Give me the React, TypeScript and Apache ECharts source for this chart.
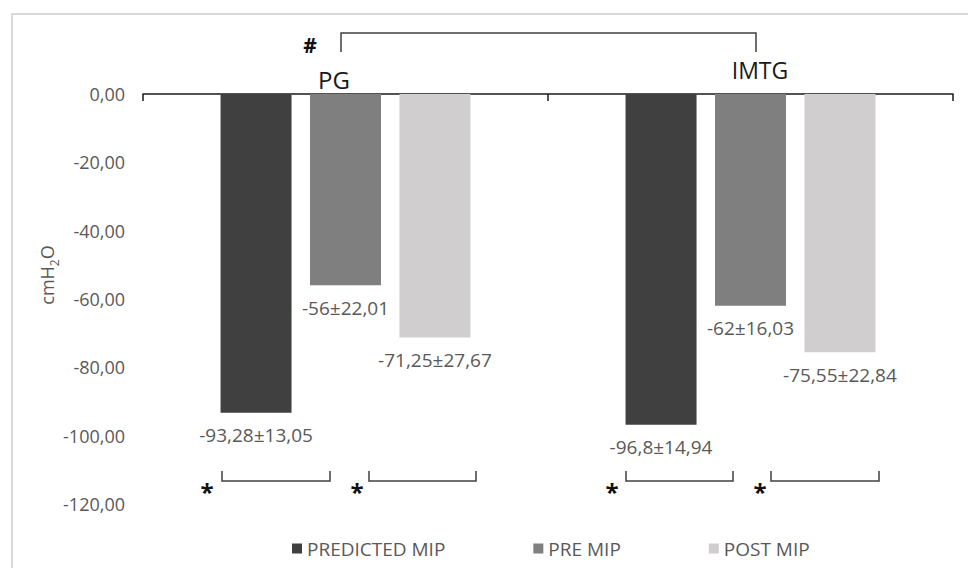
import React, { useEffect, useRef } from "react";
import * as echarts from "echarts";

const categories = ["PG", "IMTG"];
const seriesNames = ["PREDICTED MIP", "PRE MIP", "POST MIP"];
const predictedMip = [-93.28, -96.8];
const predictedSd = [13.05, 14.94];
const preMip = [-56, -62];
const preSd = [22.01, 16.03];
const postMip = [-71.25, -75.55];
const postSd = [27.67, 22.84];
const barColors = ["#404040", "#7f7f7f", "#d0cece"];
const yMin = -120;
const yMax = 0;
const yInterval = 20;

const FONT = "'Open Sans', 'Noto Sans', sans-serif";
const comma = (v: number) => String(v).replace(".", ",");

export default function App() {
  const ref = useRef<HTMLDivElement>(null);

  useEffect(() => {
    if (!ref.current) return;
    const chart = echarts.init(ref.current, undefined, { renderer: "svg" });
    const values = [predictedMip, preMip, postMip];
    const sds = [predictedSd, preSd, postSd];

    const bracketStyle = { stroke: "#404040", lineWidth: 1.5, fill: "none" };
    const bottomBrackets = [
      [222, 330],
      [369, 476],
      [626, 733],
      [771, 879],
    ];
    const stars = [207, 357, 612, 760];

    const graphic: any[] = [
      {
        type: "rect",
        shape: { x: 12, y: 14, width: 1000, height: 600 },
        style: { stroke: "#d9d9d9", lineWidth: 2, fill: "none" },
        silent: true,
      },
      {
        type: "text",
        x: 334,
        y: 79,
        style: {
          text: categories[0],
          fontSize: 24,
          fontWeight: "normal",
          fontFamily: FONT,
          fill: "#1a1a1a",
          align: "center",
          verticalAlign: "middle",
        },
      },
      {
        type: "text",
        x: 760,
        y: 70,
        style: {
          text: categories[1],
          fontSize: 23,
          fontWeight: "normal",
          fontFamily: FONT,
          fill: "#1a1a1a",
          align: "center",
          verticalAlign: "middle",
        },
      },
      {
        type: "polyline",
        shape: { points: [[341, 52], [341, 33], [756, 33], [756, 52]] },
        style: bracketStyle,
      },
      {
        type: "text",
        x: 310,
        y: 45,
        style: {
          text: "#",
          fontSize: 21,
          fontWeight: "bold",
          fontFamily: FONT,
          fill: "#111",
          align: "center",
          verticalAlign: "middle",
        },
      },
      {
        type: "text",
        x: 47,
        y: 275,
        rotation: Math.PI / 2,
        style: {
          text: "{a|cmH}{b|2}{a|O}",
          fontFamily: FONT,
          align: "center",
          verticalAlign: "middle",
          rich: {
            a: { fontSize: 18, fontFamily: FONT, fill: "#595959", lineHeight: 26, verticalAlign: "middle" },
            b: { fontSize: 12, fontFamily: FONT, fill: "#595959", lineHeight: 26, verticalAlign: "bottom" },
          },
        },
      },
    ];
    bottomBrackets.forEach(([a, b]) => {
      graphic.push({
        type: "polyline",
        shape: { points: [[a, 471], [a, 481], [b, 481], [b, 471]] },
        style: bracketStyle,
      });
    });
    stars.forEach((x) => {
      graphic.push({
        type: "text",
        x,
        y: 491,
        style: {
          text: "*",
          fontSize: 24,
          fontWeight: "bold",
          fontFamily: FONT,
          fill: "#111",
          align: "center",
          verticalAlign: "middle",
        },
      });
    });

    chart.setOption({
      animation: false,
      backgroundColor: "#ffffff",
      textStyle: { fontFamily: FONT },
      grid: { left: 143, right: 15, top: 94, bottom: 64, containLabel: false },
      legend: {
        data: seriesNames,
        left: 287,
        top: 534,
        icon: "rect",
        itemWidth: 10,
        itemHeight: 10,
        itemGap: 88,
        textStyle: { fontSize: 19, color: "#595959", fontFamily: FONT },
      },
      xAxis: {
        type: "category",
        data: categories,
        position: "top",
        axisLine: { show: true, lineStyle: { color: "#1a1a1a", width: 1.5 } },
        axisTick: { show: true, inside: true, length: 7, lineStyle: { color: "#1a1a1a", width: 1.5 } },
        axisLabel: { show: false },
        splitLine: { show: false },
      },
      yAxis: {
        type: "value",
        min: yMin,
        max: yMax,
        interval: yInterval,
        axisLine: { show: false },
        axisTick: { show: false },
        splitLine: { show: false },
        axisLabel: {
          fontSize: 18,
          color: "#595959",
          fontFamily: FONT,
          margin: 18,
          formatter: (v: number) => (v === 0 ? 0 : v).toFixed(2).replace(".", ","),
        },
      },
      series: seriesNames.map((name, i) => ({
        name,
        type: "bar",
        data: values[i],
        barWidth: 71,
        barGap: "26%",
        itemStyle: { color: barColors[i] },
        label: {
          show: true,
          position: "bottom",
          distance: 13,
          fontSize: 19,
          color: "#595959",
          fontFamily: FONT,
          formatter: (p: any) => `${comma(p.value)}±${comma(sds[i][p.dataIndex])}`,
        },
      })),
      graphic,
    });

    return () => chart.dispose();
  }, []);

  return (
    <div
      ref={ref}
      style={{ position: "absolute", left: 0, top: 0, width: 968, height: 568, background: "#fff" }}
    />
  );
}
